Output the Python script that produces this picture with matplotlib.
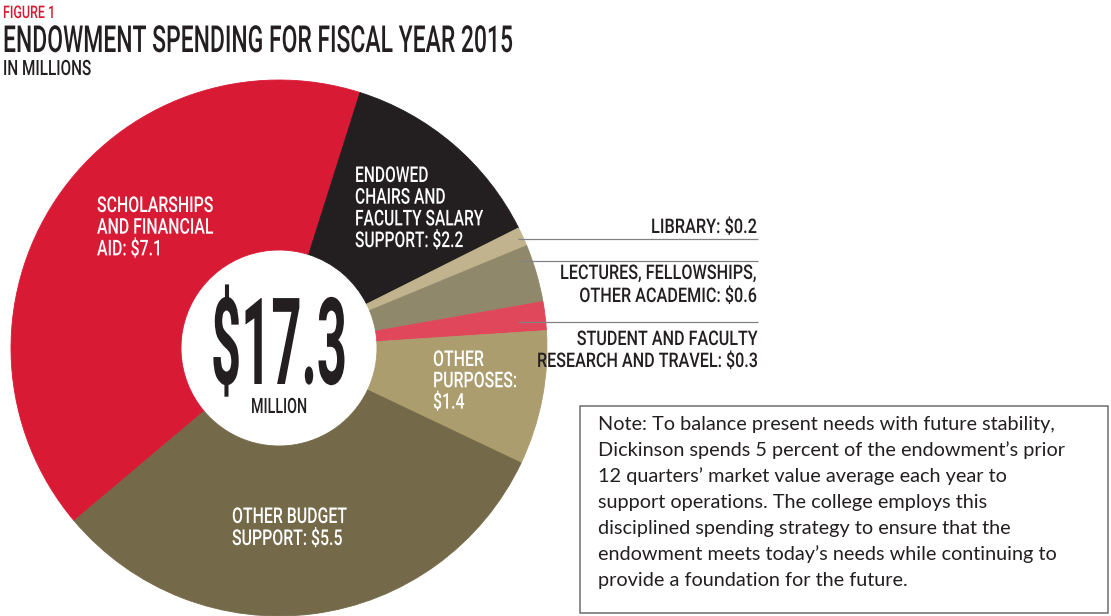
import matplotlib
matplotlib.use('Agg')
import matplotlib.pyplot as plt
from matplotlib.patches import Rectangle
from matplotlib.patheffects import AbstractPathEffect
from matplotlib.transforms import Affine2D

W, H = 1111, 616

# endowment spending FY2015, millions -- clockwise starting with scholarships
categories = ['Scholarships and financial aid',
              'Endowed chairs and faculty salary support',
              'Library',
              'Lectures, fellowships, other academic',
              'Student and faculty research and travel',
              'Other purposes',
              'Other budget support']
values = [7.1, 2.2, 0.2, 0.6, 0.3, 1.4, 5.5]
colors = ['#d91a35', '#231f20', '#c0b38d', '#8f886b', '#e0475b', '#ab9d6e', '#746948']

# label text per wedge, value gets appended to the last line
label_lines = [['SCHOLARSHIPS', 'AND FINANCIAL', 'AID:'],
               ['ENDOWED', 'CHAIRS AND', 'FACULTY SALARY', 'SUPPORT:'],
               ['LIBRARY:'],
               ['LECTURES, FELLOWSHIPS,', 'OTHER ACADEMIC:'],
               ['STUDENT AND FACULTY', 'RESEARCH AND TRAVEL:'],
               ['OTHER', 'PURPOSES:', ''],
               ['OTHER BUDGET', 'SUPPORT:']]

fig_label = 'FIGURE 1'
title = 'ENDOWMENT SPENDING FOR FISCAL YEAR 2015'
subtitle = 'IN MILLIONS'
unit = 'MILLION'
note_lines = ['Note: To balance present needs with future stability,',
              'Dickinson spends 5 percent of the endowment\u2019s prior',
              '12 quarters\u2019 market value average each year to',
              'support operations. The college employs this',
              'disciplined spending strategy to ensure that the',
              'endowment meets today\u2019s needs while continuing to',
              'provide a foundation for the future.']

ink = '#231f20'
red = '#d71a32'


# ===================================================
class Squeeze(AbstractPathEffect):
    """squash text horizontally about x0 (display px) - fakes a condensed face"""
    def __init__(self, sx, x0):
        super().__init__()
        self.sx = sx
        self.x0 = x0

    def draw_path(self, renderer, gc, tpath, affine, rgbFace=None):
        sq = Affine2D().translate(-self.x0, 0).scale(self.sx, 1).translate(self.x0, 0)
        renderer.draw_path(gc, tpath, affine + sq, rgbFace)


fig = plt.figure(figsize=(W / 100, H / 100), dpi=100)
ax = fig.add_axes([0, 0, 1, 1])

# pie centre/radius in pixels (y from top)
cx, cy, R, r_in = 279, 348, 268, 98
wedges, _ = ax.pie(values, colors=colors, startangle=220.15, counterclock=False,
                   center=(cx, H - cy), radius=R,
                   wedgeprops=dict(width=R - r_in, linewidth=0.6))
for w in wedges:
    w.set_edgecolor(w.get_facecolor())

ax.set_xlim(0, W)
ax.set_ylim(0, H)
ax.axis('off')

rend = fig.canvas.get_renderer()


def cond(x, y, s, size, ha='left', color=ink, weight='medium'):
    return ax.text(x, H - y, s, fontsize=size, ha=ha, va='baseline', color=color,
                   family='Roboto', weight=weight)


def squeeze(texts, ref, width):
    # squeeze factor so that ref comes out at the measured width (px)
    sx = width / ref.get_window_extent(rend).width
    for t in texts:
        t.set_path_effects([Squeeze(sx, t.get_position()[0])])


t = cond(3, 52, title, 26.8)
squeeze([t], t, 511)
t = cond(3, 18, fig_label, 12.5, color=red)
squeeze([t], t, 52)
t = cond(3, 75, subtitle, 15.2)
squeeze([t], t, 88)

# (x, first baseline, pitch, ha, colour, size, ref line, ref width) per wedge label
label_pos = [(97, 212, 21.7, 'left', 'white', 15.7, 0, 116),
             (355, 182, 21.7, 'left', 'white', 15.7, 2, 128),
             (757, 233, 22.0, 'right', ink, 14.5, 0, 106),
             (757, 279, 23.0, 'right', ink, 14.5, 0, 197),
             (758, 345, 22.0, 'right', ink, 14.5, 1, 221),
             (433, 366, 21.3, 'left', 'white', 15.7, 1, 84),
             (232, 523, 22.0, 'left', 'white', 15.7, 0, 115)]

for lines, v, (x, y0, dy, ha, c, fs, k, wref) in zip(label_lines, values, label_pos):
    lines = lines[:-1] + [(lines[-1] + ' $%.1f' % v).strip()]
    tl = [cond(x, y0 + i * dy, s, fs, ha=ha, color=c) for i, s in enumerate(lines)]
    squeeze(tl, tl[k], wref)

# leader lines for the thin wedges
for y in [239, 261, 322]:
    ax.plot([518, 758], [H - y, H - y], color='#808285', lw=0.9, solid_capstyle='butt')

# total in the middle
tt = cond(cx, 384, '$%.1f' % sum(values), 87, ha='center', weight='bold')
squeeze([tt], tt, 136)
t = cond(cx, 413, unit, 15.2, ha='center')
squeeze([t], t, 56)

# note box
ax.add_patch(Rectangle((580, H - 613), 528, 207, facecolor='white', edgecolor='#6d6e71', lw=1.1))
for i, s in enumerate(note_lines):
    ax.text(598, H - (430 + 26 * i), s, fontsize=14.3, family='Lato', weight='normal',
            color=ink, ha='left', va='baseline')

fig.savefig('out.png', dpi=100)
